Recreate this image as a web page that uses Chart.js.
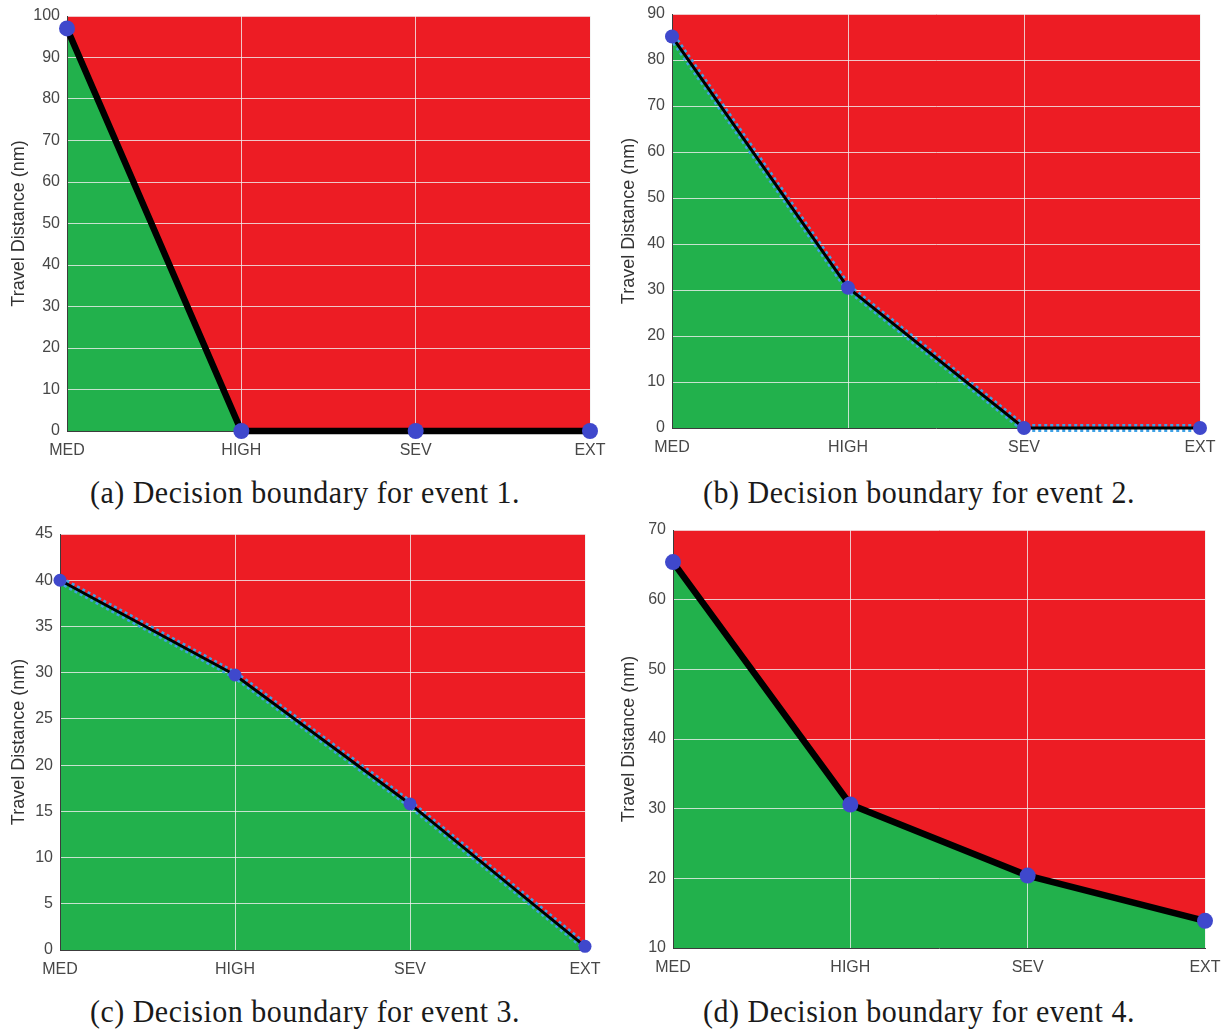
<!DOCTYPE html>
<html>
<head>
<meta charset="utf-8">
<script src="https://cdn.jsdelivr.net/npm/chart.js@4/dist/chart.umd.min.js"></script>
<style>
  html, body { margin: 0; padding: 0; background: #ffffff; }
  body { width: 1226px; height: 1030px; position: relative; overflow: hidden; }
  canvas { position: absolute; }
  .cap { position: absolute; width: 610px; text-align: center; font-family: "Liberation Serif", "Times New Roman", serif; font-size: 30px; letter-spacing: 0.5px; color: #1a1a1a; white-space: nowrap; transform: scaleY(1.06); }
</style>
</head>
<body>
<canvas id="c1" width="610" height="470" style="left:0px;top:0px"></canvas>
<canvas id="c2" width="616" height="470" style="left:610px;top:0px"></canvas>
<canvas id="c3" width="610" height="470" style="left:0px;top:520px"></canvas>
<canvas id="c4" width="616" height="470" style="left:610px;top:520px"></canvas>
<div class="cap" id="t1" style="left:0px;top:475px"></div>
<div class="cap" id="t2" style="left:614px;top:475px"></div>
<div class="cap" id="t3" style="left:0px;top:994px"></div>
<div class="cap" id="t4" style="left:614px;top:994px"></div>
<script>
// ---- data ----
const categories = ['MED', 'HIGH', 'SEV', 'EXT'];
const event1 = [97, 0, 0, 0];
const event2 = [85.1, 30.5, 0, 0];
const event3 = [40, 29.75, 15.8, 0.4];
const event4 = [65.4, 30.6, 20.4, 13.9];
const yMins = [0, 0, 0, 10];
const yMaxs = [100, 90, 45, 70];
const ySteps = [10, 10, 5, 10];
const yTitle = 'Travel Distance (nm)';
const captions = [
  '(a) Decision boundary for event 1.',
  '(b) Decision boundary for event 2.',
  '(c) Decision boundary for event 3.',
  '(d) Decision boundary for event 4.'
];

// ---- style / layout ----
const RED = '#ED1C24', GREEN = '#22B14C', BLUE = '#3F48CC';
const layouts = [
  {id: 'c1', L: 67, R: 590, T: 16, B: 431, lw: 6.5, pr: 8, dotted: false},
  {id: 'c2', L: 62, R: 590, T: 14, B: 428, lw: 3, pr: 7, dotted: true},
  {id: 'c3', L: 60, R: 585, T: 14, B: 430, lw: 3, pr: 6.5, dotted: true},
  {id: 'c4', L: 63, R: 595, T: 10, B: 428, lw: 6.5, pr: 8, dotted: false}
];
const series = [event1, event2, event3, event4];

const redBackground = {
  id: 'redBackground',
  beforeDraw(chart) {
    const {ctx, chartArea: a} = chart;
    ctx.save();
    ctx.globalCompositeOperation = 'destination-over';
    ctx.fillStyle = RED;
    ctx.fillRect(a.left, a.top, a.right - a.left, a.bottom - a.top);
    ctx.restore();
  }
};

captions.forEach((c, i) => { document.getElementById('t' + (i + 1)).textContent = c; });

const tickFont = { family: '"Liberation Sans", Arial, sans-serif', size: 16 };

layouts.forEach((lay, i) => {
  const canvas = document.getElementById(lay.id);
  const W = canvas.width, H = canvas.height;
  const datasets = [{
    data: series[i],
    borderColor: '#000000',
    borderWidth: lay.lw,
    backgroundColor: GREEN,
    fill: 'start',
    tension: 0,
    pointRadius: lay.pr,
    pointHoverRadius: lay.pr,
    pointBackgroundColor: BLUE,
    pointBorderWidth: 0,
    clip: false,
    order: 0
  }];
  if (lay.dotted) {
    datasets.push({
      data: series[i],
      borderColor: '#3FA2E6',
      borderWidth: 8,
      borderDash: [3, 3],
      fill: false,
      tension: 0,
      pointRadius: 0,
      clip: false,
      order: 1
    });
  }
  new Chart(canvas, {
    type: 'line',
    data: { labels: categories, datasets },
    options: {
      responsive: false,
      animation: false,
      events: [],
      layout: { padding: { top: lay.T, right: W - lay.R, bottom: 0, left: 0 } },
      plugins: {
        legend: { display: false },
        tooltip: { enabled: false },
        filler: { drawTime: 'beforeDraw' }
      },
      scales: {
        x: {
          type: 'category',
          offset: false,
          afterFit(scale) { scale.height = H - lay.B; },
          grid: { color: 'rgba(240,240,240,0.8)', lineWidth: 1, drawTicks: true, tickLength: 10, tickColor: 'rgba(0,0,0,0)' },
          border: { display: true, color: '#3c3c3c', width: 1 },
          ticks: { padding: 0, color: '#474747', maxRotation: 0, autoSkip: false, font: tickFont }
        },
        y: {
          min: yMins[i], max: yMaxs[i],
          afterFit(scale) { scale.width = lay.L; },
          grid: { color: 'rgba(240,240,240,0.8)', lineWidth: 1, drawTicks: true, tickLength: 7, tickColor: 'rgba(0,0,0,0)' },
          border: { display: true, color: '#3c3c3c', width: 1 },
          ticks: { stepSize: ySteps[i], padding: 0, color: '#474747', font: tickFont },
          title: {
            display: true, text: yTitle, color: '#333333',
            padding: { top: 8, bottom: 0 },
            font: { family: '"Liberation Sans", Arial, sans-serif', size: 18 }
          }
        }
      }
    },
    plugins: [redBackground]
  });
});
</script>
</body>
</html>
